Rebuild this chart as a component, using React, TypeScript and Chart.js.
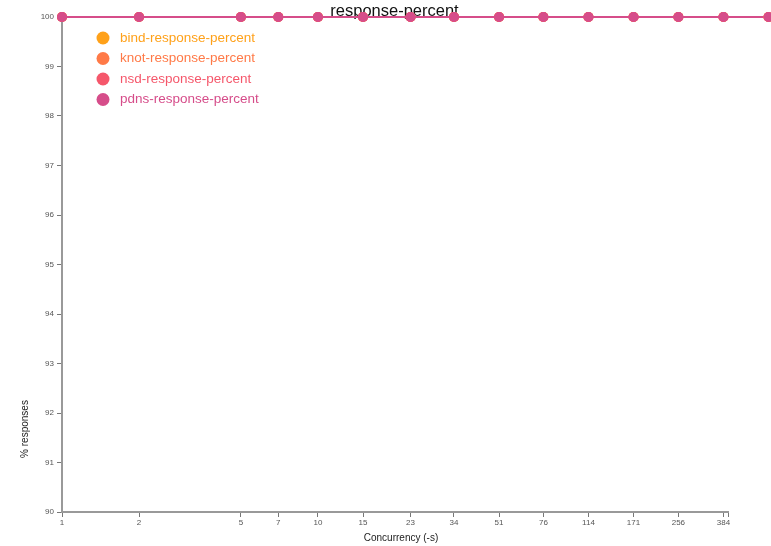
import React, { useEffect, useRef } from "react";
import { Chart, registerables } from "chart.js";

Chart.register(...registerables);

// Concurrency levels (-s) used for each run
const concurrency = [1, 2, 5, 7, 10, 15, 23, 34, 51, 76, 114, 171, 256, 384, 576];
// Labelled ticks on the concurrency axis
const xTickValues = [1, 2, 5, 7, 10, 15, 23, 34, 51, 76, 114, 171, 256, 384];
const xAxisMax = 400;

// Percentage of queries answered, per server
const bindResponse = [100, 100, 100, 100, 100, 100, 100, 100, 100, 100, 100, 100, 100, 100, 100];
const knotResponse = [100, 100, 100, 100, 100, 100, 100, 100, 100, 100, 100, 100, 100, 100, 100];
const nsdResponse = [100, 100, 100, 100, 100, 100, 100, 100, 100, 100, 100, 100, 100, 100, 100];
const pdnsResponse = [100, 100, 100, 100, 100, 100, 100, 100, 100, 100, 100, 100, 100, 100, 100];

const seriesNames = [
  "bind-response-percent",
  "knot-response-percent",
  "nsd-response-percent",
  "pdns-response-percent",
];
const seriesColors = ["#ffa11a", "#ff7a47", "#f5576b", "#d64d8a"];
const seriesValues = [bindResponse, knotResponse, nsdResponse, pdnsResponse];

const FONT = "'Liberation Sans', Arial, sans-serif";
const POINT_RADIUS = 5;

const decorations = {
  id: "decorations",
  beforeDatasetsDraw(chart: any) {
    const ctx = chart.ctx;
    ctx.save();
    ctx.fillStyle = "#111";
    ctx.font = `16.5px ${FONT}`;
    ctx.textAlign = "center";
    ctx.textBaseline = "alphabetic";
    ctx.fillText("response-percent", 394.5, 16);
    ctx.restore();
  },
  afterDatasetsDraw(chart: any) {
    // markers for runs past the end of the axis domain (later series on top)
    const ctx = chart.ctx;
    const xs = chart.scales.x;
    const ys = chart.scales.y;
    ctx.save();
    seriesValues.forEach((vals, i) => {
      ctx.fillStyle = seriesColors[i];
      concurrency.forEach((c, j) => {
        if (c <= xAxisMax) return;
        ctx.beginPath();
        ctx.arc(xs.getPixelForValue(c), ys.getPixelForValue(vals[j]), POINT_RADIUS, 0, Math.PI * 2);
        ctx.fill();
      });
    });
    ctx.restore();
  },
  afterDraw(chart: any) {
    const ctx = chart.ctx;
    ctx.save();
    // axis titles
    ctx.fillStyle = "#222";
    ctx.font = `10px ${FONT}`;
    ctx.textAlign = "center";
    ctx.textBaseline = "middle";
    ctx.fillText("Concurrency (-s)", 401, 538);
    ctx.translate(25, 429);
    ctx.rotate(-Math.PI / 2);
    ctx.fillText("% responses", 0, 0);
    ctx.restore();

    // legend
    ctx.save();
    ctx.font = `13.5px ${FONT}`;
    ctx.textAlign = "left";
    ctx.textBaseline = "middle";
    seriesNames.forEach((name, i) => {
      const y = 38 + i * 20.5;
      ctx.fillStyle = seriesColors[i];
      ctx.beginPath();
      ctx.arc(103, y, 6.5, 0, Math.PI * 2);
      ctx.fill();
      ctx.fillText(name, 120, y);
    });
    ctx.restore();
  },
};

export default function App() {
  const canvasRef = useRef<HTMLCanvasElement>(null);

  useEffect(() => {
    const canvas = canvasRef.current;
    if (!canvas) return;
    const chart = new Chart(canvas, {
      type: "line",
      data: {
        datasets: seriesValues.map((vals, i) => ({
          label: seriesNames[i],
          data: concurrency.map((c, j) => ({ x: c, y: vals[j] })),
          borderColor: seriesColors[i],
          backgroundColor: seriesColors[i],
          borderWidth: 2,
          pointRadius: POINT_RADIUS,
          pointBorderWidth: 0,
          pointHoverRadius: POINT_RADIUS,
          tension: 0,
          order: seriesValues.length - 1 - i,
          clip: false as any,
        })),
      },
      options: {
        responsive: false,
        animation: false,
        events: [],
        layout: { padding: { top: 17, right: 43, left: 0, bottom: 0 } },
        plugins: {
          legend: { display: false },
          title: { display: false },
          tooltip: { enabled: false },
        },
        scales: {
          x: {
            type: "logarithmic",
            min: 1,
            max: xAxisMax,
            afterBuildTicks(scale: any) {
              scale.ticks = [...xTickValues, xAxisMax].map((v) => ({ value: v }));
            },
            afterFit(scale: any) {
              scale.height = 34;
            },
            ticks: {
              autoSkip: false,
              maxRotation: 0,
              padding: 1,
              color: "#555",
              font: { family: FONT, size: 8 },
              callback: (v: any) => (xTickValues.includes(Number(v)) ? String(v) : ""),
            },
            grid: {
              drawOnChartArea: false,
              drawTicks: true,
              tickLength: 5,
              color: "#777",
              lineWidth: 1,
            },
            border: { color: "#999", width: 2 },
          },
          y: {
            type: "linear",
            min: 90,
            max: 100,
            afterFit(scale: any) {
              scale.width = 62;
            },
            ticks: {
              stepSize: 1,
              padding: 3,
              color: "#555",
              font: { family: FONT, size: 8 },
            },
            grid: {
              drawOnChartArea: false,
              drawTicks: true,
              tickLength: 5,
              color: "#777",
              lineWidth: 1,
            },
            border: { color: "#999", width: 2 },
          },
        },
      },
      plugins: [decorations],
    });
    return () => chart.destroy();
  }, []);

  return (
    <div style={{ position: "absolute", left: 0, top: 0, width: 771, height: 546, background: "#fff" }}>
      <canvas ref={canvasRef} width={771} height={546} />
    </div>
  );
}
